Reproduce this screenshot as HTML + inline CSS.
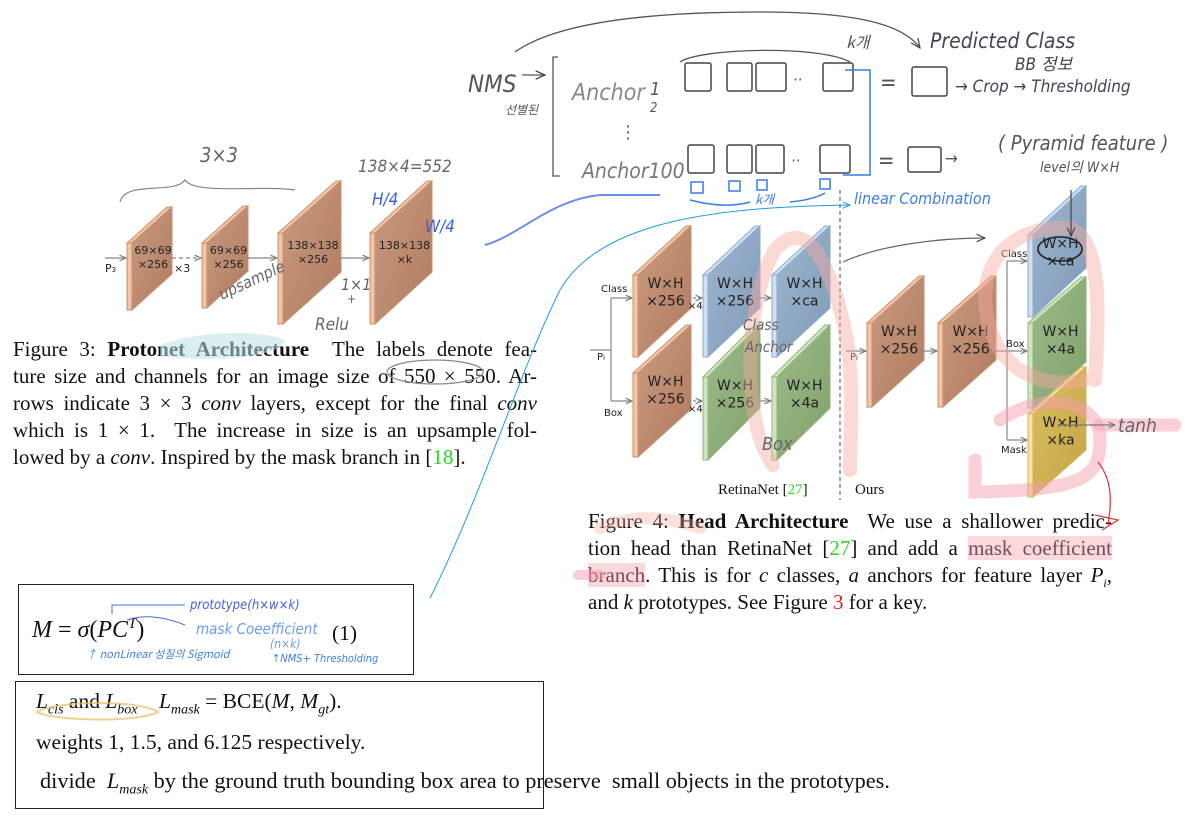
<!DOCTYPE html>
<html><head><meta charset="utf-8">
<style>
html,body{margin:0;padding:0;background:#fff;}
#root{position:relative;width:1200px;height:823px;overflow:hidden;background:#fff;font-family:"Liberation Serif",serif;}
svg{position:absolute;left:0;top:0;}
.cap{position:absolute;font-family:"Liberation Serif",serif;font-size:21px;line-height:27px;color:#111;}
.cap div{height:27px;white-space:nowrap;text-align:justify;text-align-last:justify;}
.cap div.last{text-align:left;text-align-last:left;}
.g{color:#22dd22}.r{color:#e02020}
.hl{background:rgba(245,170,180,0.45);color:#7a4a5a}
.box{position:absolute;border:1.5px solid #222;}
.t{position:absolute;font-family:"Liberation Serif",serif;font-size:21.5px;color:#111;white-space:nowrap;}
i{font-style:italic}
</style></head>
<body>
<div id="root">
<svg id="fig" width="1200" height="823" viewBox="0 0 1200 823">
<g id="slabs"></g>
<g id="labels" font-family="'DejaVu Sans',sans-serif" fill="#222"></g>
</svg>

<div class="cap" style="left:13px;top:336px;width:524px;">
<div>Figure 3: <b>Protonet Architecture</b>&nbsp; The labels denote fea-</div>
<div>ture size and channels for an image size of 550 × 550. Ar-</div>
<div>rows indicate 3 × 3 <i>conv</i> layers, except for the final <i>conv</i></div>
<div>which is 1 × 1.&nbsp; The increase in size is an upsample fol-</div>
<div class="last">lowed by a <i>conv</i>. Inspired by the mask branch in [<span class="g">18</span>].</div>
</div>

<div class="cap" style="left:588px;top:508px;width:524px;">
<div>Figure 4: <b>Head Architecture</b>&nbsp; We use a shallower predic-</div>
<div>tion head than RetinaNet [<span class="g">27</span>] and add a <span class="hl">mask coefficient</span></div>
<div><span class="hl">branch</span>. This is for <i>c</i> classes, <i>a</i> anchors for feature layer <i>P<sub style="font-size:12px;line-height:0">i</sub></i>,</div>
<div class="last">and <i>k</i> prototypes. See Figure <span class="r">3</span> for a key.</div>
</div>

<div class="box" style="left:18px;top:584px;width:394px;height:89px;"></div>
<div class="t" style="left:32px;top:617px;font-size:24px;"><i>M</i> = <i>σ</i>(<i>PC</i><sup style="font-size:15px;line-height:0"><i>T</i></sup>)</div>
<div class="t" style="left:332px;top:621px;">(1)</div>

<div class="box" style="left:15px;top:681px;width:527px;height:126px;"></div>
<div class="t" style="left:36px;top:689px;"><i>L<sub style="font-size:14px;line-height:0">cls</sub></i> and <i>L<sub style="font-size:14px;line-height:0">box</sub></i>&nbsp;&nbsp;&nbsp;&nbsp;<i>L<sub style="font-size:14px;line-height:0">mask</sub></i> = BCE(<i>M</i>, <i>M<sub style="font-size:14px;line-height:0">gt</sub></i>).</div>
<div class="t" style="left:36px;top:730px;">weights 1, 1.5, and 6.125 respectively.</div>
<div class="t" style="left:40px;top:768px;font-size:22.3px;">divide&nbsp; <i>L<sub style="font-size:14px;line-height:0">mask</sub></i>&nbsp;by the ground truth bounding box area to preserve&nbsp; small objects in the prototypes.</div>
</div>

<script>
var NS='http://www.w3.org/2000/svg';
var slabG=document.getElementById('slabs');
var labG=document.getElementById('labels');
var colors={brown:['#c99a80','#b07b60','#f3c4a6','#c7926f'],blue:['#9fb6cf','#7f9bb8','#cfe0f2','#8eaacb'],green:['#9dbb89','#7fa06c','#cfe6c0','#93b57f'],yellow:['#d9bf62','#c4a445','#f7e2a0','#d2b559']};
var slabX=[127,202,278,370,633,633,703,703,772,772,867,938,1028,1028,1028];
var slabY=[243,243,233,233,275,373,275,377,275,377,323,323,235,323,414];
var slabH=[67,65,91,91,82,84,82,83,82,83,84,84,82,85,83];
var slabDX=[40,41,58,57,53,53,52,52,53,53,52,53,53,53,53];
var slabDY=[36,37,52,52,49,48,49,52,49,52,47,47,49,46,47];
var slabC=['brown','brown','brown','brown','brown','brown','blue','green','blue','green','brown','brown','blue','green','yellow'];
var slabL1=['69×69','69×69','138×138','138×138','W×H','W×H','W×H','W×H','W×H','W×H','W×H','W×H','W×H','W×H','W×H'];
var slabL2=['×256','×256','×256','×k','×256','×256','×256','×256','×ca','×4a','×256','×256','×ca','×4a','×ka'];
var slabF=[11,11,11,11,14,14,14,14,14,14,14,14,14,14,14];
(function(){
for(var i=0;i<slabX.length;i++){
  var x=slabX[i],y=slabY[i],h=slabH[i],dx=slabDX[i],dy=slabDY[i],c=colors[slabC[i]],sw=5;
  var g=document.createElementNS(NS,'g');
  
  
  var lg=document.createElementNS(NS,'linearGradient');
  lg.setAttribute('id','gr'+i);lg.setAttribute('x1','0');lg.setAttribute('y1','0');lg.setAttribute('x2','1');lg.setAttribute('y2','1');
  var s1=document.createElementNS(NS,'stop');s1.setAttribute('offset','0');s1.setAttribute('stop-color',c[0]);lg.appendChild(s1);
  var s2=document.createElementNS(NS,'stop');s2.setAttribute('offset','1');s2.setAttribute('stop-color',c[1]);lg.appendChild(s2);
  g.appendChild(lg);
  var tp=document.createElementNS(NS,'polygon');
  tp.setAttribute('points',[x,y,x+dx,y-dy,x+dx+sw,y-dy,x+sw,y].join(' '));
  tp.setAttribute('fill',c[2]);tp.setAttribute('stroke',c[3]);tp.setAttribute('stroke-width','1');
  g.appendChild(tp);
  var face=document.createElementNS(NS,'polygon');
  face.setAttribute('points',[x+sw,y,x+sw+dx,y-dy,x+sw+dx,y-dy+h,x+sw,y+h].join(' '));
  face.setAttribute('fill','url(#gr'+i+')');face.setAttribute('stroke',c[3]);face.setAttribute('stroke-width','1');
  g.appendChild(face);
  var strip=document.createElementNS(NS,'rect');
  strip.setAttribute('x',x);strip.setAttribute('y',y);strip.setAttribute('width',sw);strip.setAttribute('height',h);
  strip.setAttribute('fill',c[2]);strip.setAttribute('stroke',c[3]);strip.setAttribute('stroke-width','1');
  g.appendChild(strip);
  slabG.appendChild(g);
  var fs=slabF[i];
  var cx=x+sw+dx/2+1;
  var cy=(fs<12)? (y+(h>80?16:11)) : (y+13);
  var t1=document.createElementNS(NS,'text');
  t1.setAttribute('x',cx);t1.setAttribute('y',cy);t1.setAttribute('font-size',fs);t1.setAttribute('text-anchor','middle');
  t1.textContent=slabL1[i];
  
  
  labG.appendChild(t1);
  var t2=document.createElementNS(NS,'text');
  t2.setAttribute('x',cx);t2.setAttribute('y',cy+fs*1.25);t2.setAttribute('font-size',fs);t2.setAttribute('text-anchor','middle');
  t2.textContent=slabL2[i];
  
  
  labG.appendChild(t2);
}
})();
</script>

<svg width="1200" height="823" viewBox="0 0 1200 823" style="pointer-events:none">
<defs>
<marker id="a1" viewBox="0 0 10 10" refX="9" refY="5" markerWidth="6" markerHeight="6" orient="auto"><path d="M0,1 L9,5 L0,9" fill="none" stroke="#777" stroke-width="1.5"/></marker>
<marker id="a2" viewBox="0 0 10 10" refX="9" refY="5" markerWidth="8" markerHeight="8" orient="auto"><path d="M0,1 L9,5 L0,9" fill="none" stroke="#2a9be0" stroke-width="1.2"/></marker>
<marker id="a3" viewBox="0 0 10 10" refX="9" refY="5" markerWidth="8" markerHeight="8" orient="auto"><path d="M0,1 L9,5 L0,9" fill="none" stroke="#444" stroke-width="1.2"/></marker>
</defs>
<g stroke="#888" stroke-width="1.2" fill="none">
<line x1="105" y1="258" x2="126" y2="258" marker-end="url(#a1)"/>
<line x1="172" y1="258" x2="201" y2="258" stroke-dasharray="4,3" marker-end="url(#a1)"/>
<line x1="247" y1="258" x2="277" y2="258" marker-end="url(#a1)"/>
<line x1="340" y1="258" x2="369" y2="258" marker-end="url(#a1)"/>
</g>
<g font-family="'DejaVu Sans',sans-serif" font-size="11" fill="#222">
<text x="105" y="272">P<tspan font-size="7">3</tspan></text>
<text x="174" y="272">×3</text>
</g>
<g stroke="#888" stroke-width="1.2" fill="none">
<line x1="590" y1="350" x2="611" y2="350"/>
<line x1="611" y1="298" x2="611" y2="401"/>
<line x1="611" y1="298" x2="632" y2="298" marker-end="url(#a1)"/>
<line x1="611" y1="401" x2="632" y2="401" marker-end="url(#a1)"/>
<line x1="688" y1="298" x2="702" y2="298" stroke-dasharray="3,2" marker-end="url(#a1)"/>
<line x1="688" y1="401" x2="702" y2="401" stroke-dasharray="3,2" marker-end="url(#a1)"/>
<line x1="757" y1="298" x2="771" y2="298" marker-end="url(#a1)"/>
<line x1="757" y1="401" x2="771" y2="401" marker-end="url(#a1)"/>
<line x1="846" y1="351" x2="866" y2="351" marker-end="url(#a1)"/>
<line x1="920" y1="351" x2="937" y2="351" marker-end="url(#a1)"/>
<line x1="991" y1="351" x2="1027" y2="351" marker-end="url(#a1)"/>
<line x1="1007" y1="261" x2="1007" y2="440"/>
<line x1="1007" y1="261" x2="1027" y2="261" marker-end="url(#a1)"/>
<line x1="1007" y1="440" x2="1027" y2="440" marker-end="url(#a1)"/>
<line x1="840" y1="190" x2="840" y2="500" stroke="#666" stroke-dasharray="4,3"/>
</g>
<g font-family="'DejaVu Sans',sans-serif" font-size="10" fill="#222">
<text x="601" y="292">Class</text>
<text x="604" y="416">Box</text>
<text x="597" y="360">P<tspan font-size="7">i</tspan></text>
<text x="688" y="309">×4</text>
<text x="688" y="412">×4</text>
<text x="850" y="360">P<tspan font-size="7">i</tspan></text>
<text x="1001" y="257">Class</text>
<text x="1006" y="347">Box</text>
<text x="1001" y="453">Mask</text>
</g>
<g font-family="'Liberation Serif',serif" font-size="15" fill="#111">
<text x="718" y="494">RetinaNet [<tspan fill="#22dd22">27</tspan>]</text>
<text x="855" y="494">Ours</text>
</g>

<g fill="none" stroke-linecap="round">
<path d="M773,465 C740,420 745,300 775,250 C805,215 830,260 845,330 C855,380 850,430 850,470" stroke="rgba(246,170,160,0.45)" stroke-width="14"/>
<path d="M1085,380 C1040,390 990,370 985,300 C985,245 1030,225 1070,228 C1100,240 1100,300 1095,380" stroke="rgba(246,170,160,0.45)" stroke-width="14"/>
<path d="M1000,420 C1045,390 1100,400 1100,440 C1100,480 1080,490 975,492 L975,460" stroke="rgba(246,160,175,0.5)" stroke-width="13"/>
<path d="M1100,425 L1175,425" stroke="rgba(246,160,175,0.5)" stroke-width="13"/>
<path d="M600,528 C630,515 660,515 700,528" stroke="rgba(246,170,160,0.35)" stroke-width="12"/>
<path d="M578,575 L600,575" stroke="rgba(246,160,175,0.5)" stroke-width="10"/>
<path d="M160,345 C200,330 265,330 285,340 C280,360 200,362 160,356 Z" fill="rgba(190,225,228,0.55)" stroke="none"/>
</g>
<g stroke="#e03030" stroke-width="1.2" fill="none">
<path d="M1098,462 C1112,480 1112,500 1108,525"/>
<path d="M1095,515 L1118,520 L1102,530"/>
</g>
<g font-family="'DejaVu Sans Condensed','DejaVu Sans',sans-serif" fill="#666" font-style="italic">
<text x="1118" y="432" font-size="19">tanh</text>
</g>
<line x1="1058" y1="425" x2="1115" y2="425" stroke="#777" stroke-width="1.2" marker-end="url(#a1)"/>

<g fill="none" stroke="#888" stroke-width="1.2">
<path d="M120,202 C125,180 175,195 185,180 C195,195 260,185 295,190"/>
<ellipse cx="435" cy="372" rx="48" ry="12"/>
<path d="M843,262 C880,245 940,238 985,238" marker-end="url(#a3)" stroke="#666"/>
<ellipse cx="1060" cy="249" rx="22" ry="12" stroke="#222" stroke-width="1.6"/>
<path d="M1071,190 L1071,236" stroke="#444" marker-end="url(#a3)"/>
</g>
<g font-family="'DejaVu Sans Condensed','DejaVu Sans',sans-serif" fill="#666" font-style="italic">
<text x="200" y="162" font-size="20">3×3</text>
<text x="358" y="172" font-size="17">138×4=552</text>
<text x="222" y="300" font-size="16" transform="rotate(-25 222 300)">upsample</text>
<text x="341" y="290" font-size="16">1×1</text>
<text x="347" y="303" font-size="12">+</text>
<text x="315" y="330" font-size="17">Relu</text>
<text x="743" y="330" font-size="15">Class</text>
<text x="745" y="352" font-size="15">Anchor</text>
<text x="762" y="450" font-size="18">Box</text>
</g>
<g font-family="'DejaVu Sans Condensed','DejaVu Sans',sans-serif" fill="#3b5fe0" font-style="italic">
<text x="372" y="205" font-size="17">H/4</text>
<text x="425" y="232" font-size="17">W/4</text>
</g>

<g fill="none" stroke="#555" stroke-width="1.3">
<path d="M515,52 C560,20 660,12 760,12 C840,12 900,20 920,48" marker-end="url(#a3)"/>
<path d="M558,57 L553,57 L553,176 L560,176"/>
<path d="M680,62 C700,48 820,45 850,62"/>
<path d="M522,75 L545,75" marker-end="url(#a3)"/>
</g>
<g fill="none" stroke="#444" stroke-width="1.5">
<rect x="685" y="63" width="26" height="28" rx="2"/><rect x="727" y="63" width="25" height="28" rx="2"/><rect x="756" y="63" width="30" height="28" rx="2"/><rect x="823" y="63" width="30" height="28" rx="2"/>
<rect x="688" y="145" width="26" height="28" rx="2"/><rect x="727" y="145" width="25" height="28" rx="2"/><rect x="756" y="145" width="28" height="28" rx="2"/><rect x="820" y="145" width="30" height="28" rx="2"/>
<rect x="912" y="67" width="35" height="29" rx="2"/><rect x="908" y="147" width="33" height="25" rx="2"/>
</g>
<g fill="none" stroke="#3a7ce6" stroke-width="1.5">
<rect x="691" y="182" width="12" height="11"/><rect x="729" y="181" width="11" height="10"/><rect x="757" y="180" width="10" height="10"/><rect x="820" y="179" width="10" height="10"/>
<path d="M843,175 L870,175 L870,70 L845,70"/>
<path d="M690,200 C720,208 740,205 750,202 M790,202 C810,200 820,196 825,193"/>
<path d="M485,245 C520,235 550,200 600,195 L660,195" stroke="#6a8ee8" stroke-width="2"/>
</g>
<path d="M430,598 C480,500 520,370 560,290 C600,220 720,207 850,205" fill="none" stroke="#1e9de0" stroke-width="1" marker-end="url(#a2)"/>
<g font-family="'DejaVu Sans Condensed','DejaVu Sans',sans-serif" fill="#555" font-style="italic">
<text x="468" y="92" font-size="24">NMS</text>
<text x="505" y="114" font-size="12" font-family="'Noto Sans CJK KR',sans-serif">선별된</text>
<text x="572" y="100" font-size="23" fill="#888">Anchor</text>
<text x="650" y="95" font-size="18">1</text>
<text x="650" y="112" font-size="13">2</text>
<text x="620" y="138" font-size="18">⋮</text>
<text x="582" y="178" font-size="21" fill="#777">Anchor100</text>
<text x="793" y="85" font-size="16">··</text>
<text x="791" y="166" font-size="16">··</text>
<text x="846" y="48" font-size="16" font-family="'Noto Sans CJK KR',sans-serif">k개</text>
<text x="880" y="90" font-size="22">=</text>
<text x="878" y="168" font-size="22">=</text>
<text x="955" y="92" font-size="17" fill="#445">→ Crop → Thresholding</text>
<text x="945" y="164" font-size="17">→</text>
<text x="930" y="48" font-size="21" fill="#445">Predicted Class</text>
<text x="1015" y="70" font-size="17" fill="#445">BB <tspan font-family="'Noto Sans CJK KR',sans-serif">정보</tspan></text>
<text x="998" y="150" font-size="20">( Pyramid feature )</text>
<text x="1040" y="172" font-size="14">level의 W×H</text>
</g>
<g font-family="'DejaVu Sans Condensed','DejaVu Sans',sans-serif" fill="#3d7fe8" font-style="italic">
<text x="755" y="204" font-size="13" font-family="'Noto Sans CJK KR',sans-serif">k개</text>
<text x="854" y="204" font-size="16">linear Combination</text>
<text x="190" y="609" font-size="13" fill="#4a5ae8">prototype(h×w×k)</text>
<text x="196" y="634" font-size="15" fill="#6a9ef0">mask Coeefficient</text>
<text x="270" y="648" font-size="12" fill="#6a9ef0">(n×k)</text>
<text x="86" y="658" font-size="11" font-family="'Noto Sans CJK KR',sans-serif">↑ nonLinear 성질의 Sigmoid</text>
<text x="272" y="662" font-size="11">↑NMS+ Thresholding</text>
</g>
<g fill="none" stroke="#4a6ae8" stroke-width="1">
<path d="M185,605 L112,605 L112,614"/>
<path d="M185,625 C160,615 140,615 127,620"/>
</g>
<path d="M36,712 C60,700 140,700 158,712 C140,722 60,722 36,712" fill="none" stroke="rgba(235,190,100,0.7)" stroke-width="2"/>
</svg>
</body></html>
